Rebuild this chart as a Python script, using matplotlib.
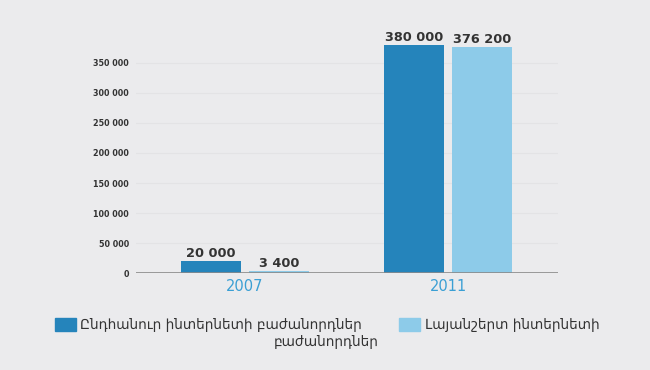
import numpy as np
import matplotlib.pyplot as plt
from matplotlib.patches import Rectangle

# Data
years = ["2007", "2011"]
total_subs = [20000, 380000]
broadband_subs = [3400, 376200]
legend_total = ["Ընդհանուր ինտերնետի բաժանորդներ", "բաժանորդներ"]
legend_broadband = "Լայանշերտ ինտերնետի"
yticks = [0, 50000, 100000, 150000, 200000, 250000, 300000, 350000]

dark = "#2584bb"
light = "#8dcbe9"
bg = "#ebebed"

plt.rcParams['font.family'] = ['DejaVu Sans']

fig = plt.figure(figsize=(6.5, 3.7), dpi=100, facecolor=bg)
ax = fig.add_axes([0.209, 0.262, 0.649, 0.649])
ax.set_facecolor(bg)

x = np.arange(len(years))
w = 0.295
off = 0.167
b1 = ax.bar(x - off, total_subs, w, color=dark, zorder=3)
b2 = ax.bar(x + off, broadband_subs, w, color=light, zorder=3)

def fmt(v):
    return f"{v:,}".replace(",", " ")

for bars in (b1, b2):
    for r in bars:
        ax.text(r.get_x() + r.get_width() / 2, r.get_height() + 1500, fmt(int(r.get_height())),
                ha='center', va='bottom', fontsize=9.3, fontweight='bold', color='#333333')

ax.set_xlim(-0.537, 1.54)
ax.set_ylim(0, 400000)
ax.set_yticks(yticks)
ax.set_yticklabels([fmt(t) for t in yticks], fontsize=5.8, fontweight='bold', color='#333333')
ax.set_xticks(x)
ax.set_xticklabels(years, fontsize=10.5, color='#3a9fd4')
ax.tick_params(length=0)
ax.tick_params(axis='x', pad=4)
ax.tick_params(axis='y', pad=5)
ax.grid(axis='y', color='#e3e3e5', linewidth=0.8, zorder=0)
for s in ax.spines.values():
    s.set_visible(False)
ax.axhline(0, color='#8a8a8a', linewidth=1.2, zorder=4)

# Legend
fig.patches.append(Rectangle((55 / 650, 1 - 331 / 370), 21 / 650, 13 / 370,
                             transform=fig.transFigure, color=dark))
fig.text(80 / 650, 1 - 325 / 370, legend_total[0], fontsize=9.8, color='#333333',
         ha='left', va='center', transform=fig.transFigure)
fig.text(379 / 650, 1 - 342 / 370, legend_total[1], fontsize=9.8, color='#333333',
         ha='right', va='center', transform=fig.transFigure)
fig.patches.append(Rectangle((399 / 650, 1 - 331 / 370), 21 / 650, 13 / 370,
                             transform=fig.transFigure, color=light))
fig.text(425 / 650, 1 - 325 / 370, legend_broadband, fontsize=9.8, color='#333333',
         ha='left', va='center', transform=fig.transFigure)

fig.savefig("out.png", dpi=100, facecolor=bg)
